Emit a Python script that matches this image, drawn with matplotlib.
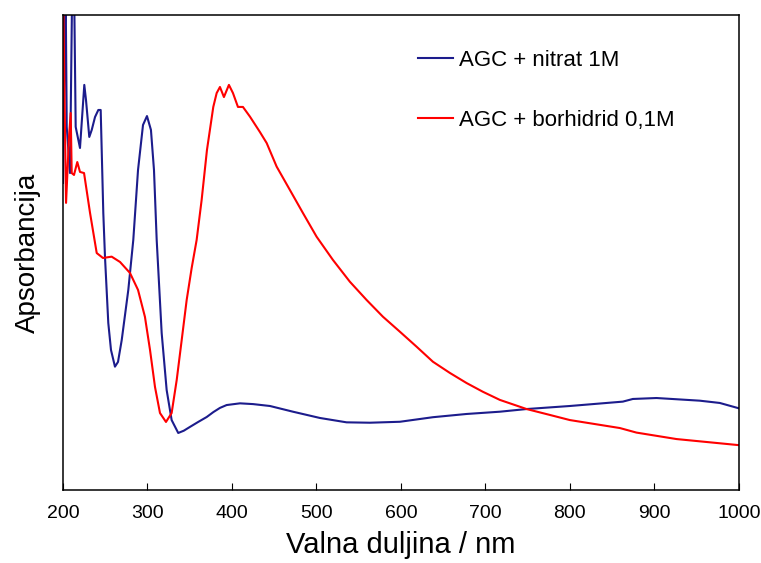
import matplotlib
matplotlib.use("Agg")
import matplotlib.pyplot as plt

plt.rcParams['font.family'] = ['Liberation Sans', 'DejaVu Sans']

# wavelength (nm) and absorbance (arb. units)
nitrat_nm = [200, 203, 204.4, 208.3, 211.0, 213.0, 215.0, 220.1, 225.2, 227.2,
             231.1, 234.0, 237.9, 241.8, 244.6, 247.7, 249.7, 253.6, 256.8, 261.5,
             265.1, 269.5, 277.3, 283.2, 288.8, 294.7, 299.4, 304.1, 307.7, 310.9,
             316.8, 322.7, 328.6, 336.4, 343.0, 350.3, 360.0, 370.1, 378.0, 385.8,
             393.7, 409.5, 425.0, 445.0, 472.2, 504.1, 535.7, 563.3, 598.8, 637.9,
             677.7, 717.2, 748.8, 800.0, 862.7, 874.6, 902.6, 953.8, 977.5, 1000]
nitrat_abs = [1.616, 2.7, 1.911, 1.668, 2.7, 2.7, 1.911, 1.80, 2.132, 2.053,
              1.858, 1.895, 1.963, 2.0, 2.0, 1.458, 1.226, 0.879, 0.737, 0.649,
              0.674, 0.789, 1.053, 1.316, 1.684, 1.921, 1.968, 1.895, 1.684, 1.316,
              0.826, 0.526, 0.368, 0.30, 0.312, 0.332, 0.358, 0.384, 0.410, 0.432,
              0.447, 0.456, 0.452, 0.442, 0.412, 0.379, 0.356, 0.354, 0.359, 0.383,
              0.40, 0.412, 0.426, 0.442, 0.465, 0.479, 0.484, 0.47, 0.458, 0.43]

borhidrid_nm = [200, 202, 203.6, 207.1, 209.1, 210.3, 213.0, 216.9, 220.1, 224.9,
                232.0, 239.9, 247.3, 257.6, 267.5, 279.3, 288.8, 297.0, 303.0, 308.9,
                314.8, 321.9, 328.6, 334.6, 340.5, 346.4, 352.3, 358.2, 364.1, 370.4,
                377.9, 381.9, 385.8, 390.5, 396.4, 401.2, 407.1, 413.0, 421.3, 433.1,
                441.1, 452.9, 468.6, 484.0, 500.2, 519.5, 539.6, 559.4, 578.7, 598.8,
                618.6, 637.9, 658.0, 677.7, 697.0, 717.2, 748.8, 776.3, 800.0, 859.2,
                878.9, 926.3, 1000]
borhidrid_abs = [2.7, 2.0, 1.511, 1.858, 1.984, 1.668, 1.658, 1.726, 1.674, 1.668,
                 1.458, 1.247, 1.221, 1.228, 1.20, 1.142, 1.053, 0.911, 0.737, 0.542,
                 0.405, 0.358, 0.405, 0.579, 0.789, 1.0, 1.168, 1.316, 1.526, 1.789,
                 2.016, 2.089, 2.121, 2.068, 2.132, 2.089, 2.016, 2.016, 1.965, 1.884,
                 1.826, 1.702, 1.579, 1.458, 1.333, 1.211, 1.096, 1.0, 0.912, 0.833,
                 0.754, 0.675, 0.616, 0.563, 0.517, 0.474, 0.426, 0.395, 0.368, 0.326,
                 0.302, 0.268, 0.236]

labels = ['AGC + nitrat 1M', 'AGC + borhidrid 0,1M']
xticks = [200, 300, 400, 500, 600, 700, 800, 900, 1000]

fig = plt.figure(figsize=(7.61, 5.63), dpi=100)
ax = fig.add_axes([0.0828, 0.1297, 0.888, 0.8437])

ax.plot(nitrat_nm, nitrat_abs, color='#1c1c8c', lw=1.5, label=labels[0])
ax.plot(borhidrid_nm, borhidrid_abs, color='#ff0000', lw=1.5, label=labels[1])

ax.set_xlim(200, 1000)
ax.set_ylim(0, 2.5)
ax.set_xticks(xticks)
ax.set_yticks([])
ax.tick_params(axis='x', direction='in', length=5, width=0.8, pad=11, labelsize=14)
for s in ax.spines.values():
    s.set_linewidth(1.1)

ax.set_xlabel('Valna duljina / nm', fontsize=21, labelpad=6)
ax.set_ylabel('Apsorbancija', fontsize=20, labelpad=16)

ax.legend(loc='upper left', bbox_to_anchor=(0.525, 0.926), frameon=False,
          fontsize=16, handlelength=1.6, handletextpad=0.25, labelspacing=1.75,
          borderpad=0, borderaxespad=0)

fig.savefig('out.png', dpi=100)
